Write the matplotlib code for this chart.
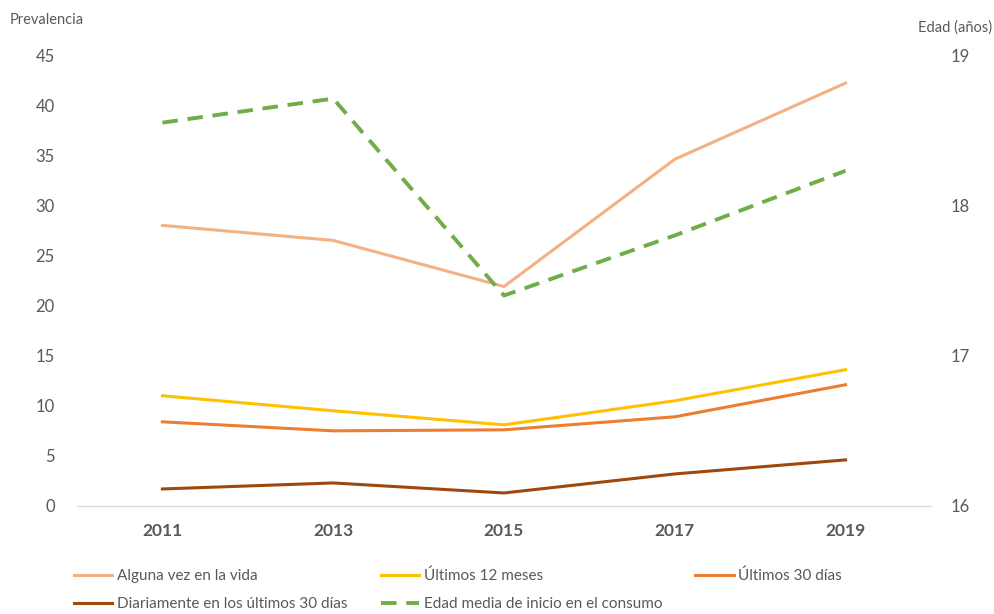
import matplotlib.pyplot as plt

plt.rcParams["font.family"] = ["Lato", "DejaVu Sans"]

# data
years = ["2011", "2013", "2015", "2017", "2019"]
alguna_vez = [28.0, 26.5, 21.9, 34.6, 42.2]
ultimos_12 = [11.0, 9.5, 8.1, 10.5, 13.6]
ultimos_30 = [8.4, 7.5, 7.6, 8.9, 12.1]
diariamente = [1.7, 2.3, 1.3, 3.2, 4.6]
edad_media = [18.55, 18.71, 17.40, 17.80, 18.23]

grey = "#595959"

fig = plt.figure(figsize=(9.95, 6.14), dpi=100)
ax = fig.add_axes([77 / 995, 1 - 506 / 614, (931 - 77) / 995, (506 - 55) / 614])
ax2 = ax.twinx()

x = range(len(years))
h1, = ax.plot(x, alguna_vez, color="#F4B183", lw=2.2, label="Alguna vez en la vida")
h2, = ax.plot(x, ultimos_12, color="#FFC000", lw=2.2, label="Últimos 12 meses")
h3, = ax.plot(x, ultimos_30, color="#ED7D31", lw=2.2, label="Últimos 30 días")
h4, = ax.plot(x, diariamente, color="#9E480E", lw=2.2, label="Diariamente en los últimos 30 días")
h5, = ax2.plot(x, edad_media, color="#70AD47", lw=2.8, ls=(0, (4, 2.5)),
               label="Edad media de inicio en el consumo")

ax.set_xlim(-0.5, len(years) - 0.5)
ax.set_ylim(0, 45)
ax.set_yticks(range(0, 46, 5))
ax2.set_ylim(16, 19)
ax2.set_yticks([16, 17, 18, 19])

ax.set_xticks(list(x))
ax.set_xticklabels(years, fontweight="bold")

for a in (ax, ax2):
    for s in a.spines.values():
        s.set_visible(False)
    a.tick_params(length=0, colors=grey, labelsize=12)
ax.spines["bottom"].set_visible(True)
ax.spines["bottom"].set_color("#D9D9D9")
ax.tick_params(axis="x", pad=12, labelsize=12.5)
ax.tick_params(axis="y", pad=16)
ax2.tick_params(axis="y", pad=14)

fig.text(10 / 995, 1 - 20 / 614, "Prevalencia", color=grey, fontsize=10.5, va="center")
fig.text(992 / 995, 1 - 28 / 614, "Edad (años)", color=grey, fontsize=10.5,
         va="center", ha="right")

handles = [h1, h4, h2, h5, h3]
fig.legend(handles, [h.get_label() for h in handles], ncol=3, frameon=False,
           loc="lower left", bbox_to_anchor=(68 / 995, -0.005, 780 / 995, 0.1),
           mode="expand", fontsize=11, labelcolor=grey, handlelength=2.5,
           handletextpad=0.3, labelspacing=0.9, borderaxespad=0)

fig.savefig("out.png", dpi=100)
